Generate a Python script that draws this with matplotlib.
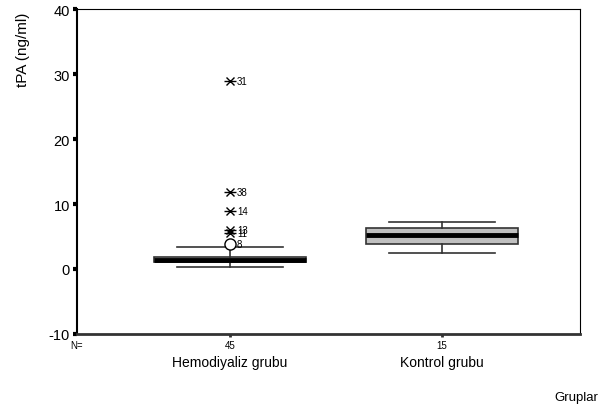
import numpy as np
import matplotlib
matplotlib.use('Agg')
import matplotlib.pyplot as plt
import matplotlib.transforms as mtransforms

plt.rcParams['font.family'] = ['Liberation Sans', 'DejaVu Sans']

# Data
groups = ['Hemodiyaliz grubu', 'Kontrol grubu']
n_counts = [45, 15]
q1 = [1.0, 3.8]
medians = [1.4, 5.3]
q3 = [1.9, 6.3]
whislo = [0.35, 2.4]
whishi = [3.45, 7.2]

# outliers (circle) and extremes (asterisk), all in the first group
outlier_vals = [3.8]
outlier_ids = ['8']
extreme_vals = [29.0, 11.8, 9.0, 6.05, 5.6]
extreme_ids = ['31', '38', '14', '13', '11']

yticks = [-10, 0, 10, 20, 30, 40]

fig = plt.figure(figsize=(6.01, 4.06), dpi=100)
ax = fig.add_axes([0.128, 0.175, 0.837, 0.80])

positions = [1, 2]
stats = []
for i in range(len(groups)):
    stats.append({'label': groups[i], 'q1': q1[i], 'med': medians[i], 'q3': q3[i],
                  'whislo': whislo[i], 'whishi': whishi[i], 'fliers': []})

ax.bxp(stats, positions=positions, widths=0.72, patch_artist=True, showfliers=False,
       boxprops=dict(facecolor='#C0C0C0', edgecolor='#333333', linewidth=1.2),
       medianprops=dict(color='black', linewidth=3.5, solid_capstyle='butt'),
       whiskerprops=dict(color='#333333', linewidth=1.2),
       capprops=dict(color='#333333', linewidth=1.2),
       capwidths=0.5)

# outlier circles
ax.plot([positions[0]] * len(outlier_vals), outlier_vals, linestyle='none', marker='o',
        markersize=8, markerfacecolor='white', markeredgecolor='black', markeredgewidth=1)
for v, lab in zip(outlier_vals, outlier_ids):
    ax.annotate(lab, (positions[0], v), xytext=(5, 0), textcoords='offset points',
                fontsize=7, va='center', ha='left')

# extreme asterisks (x + horizontal bar)
ext_x = [positions[0]] * len(extreme_vals)
ax.plot(ext_x, extreme_vals, linestyle='none', marker='x', markersize=6,
        color='black', markeredgewidth=1)
ax.plot(ext_x, extreme_vals, linestyle='none', marker='_', markersize=9,
        color='black', markeredgewidth=1)
for v, lab in zip(extreme_vals, extreme_ids):
    ax.annotate(lab, (positions[0], v), xytext=(5, 0), textcoords='offset points',
                fontsize=7, va='center', ha='left')

ax.set_xlim(0.278, 2.651)
ax.set_ylim(-10, 40)
ax.set_yticks(yticks)
ax.set_yticklabels([str(t) for t in yticks], fontsize=10.5)
ax.tick_params(axis='y', direction='out', length=3, width=3, pad=2)
ax.set_xticks(positions)
ax.set_xticklabels(['', ''])
ax.tick_params(axis='x', direction='out', length=2, width=2, color='#333333')

ax.spines['left'].set_linewidth(1.5)
ax.spines['bottom'].set_linewidth(2)
ax.spines['bottom'].set_color('#333333')
ax.spines['top'].set_linewidth(0.8)
ax.spines['right'].set_linewidth(0.8)

ax.set_ylabel('tPA (ng/ml)', fontsize=11)
ax.yaxis.set_label_coords(-0.093, 0.877)

trans = mtransforms.blended_transform_factory(ax.transData, ax.transAxes)
for p, n, g in zip(positions, n_counts, groups):
    ax.text(p, -0.02, str(n), transform=trans, fontsize=7, ha='center', va='top')
    ax.text(p, -0.065, g, transform=trans, fontsize=10, ha='center', va='top')
ax.text(0.0, -0.02, 'N=', transform=ax.transAxes, fontsize=7, ha='center', va='top')

fig.text(0.995, 0.005, 'Gruplar', fontsize=9.5, ha='right', va='bottom')

fig.savefig('out.png', dpi=100)
